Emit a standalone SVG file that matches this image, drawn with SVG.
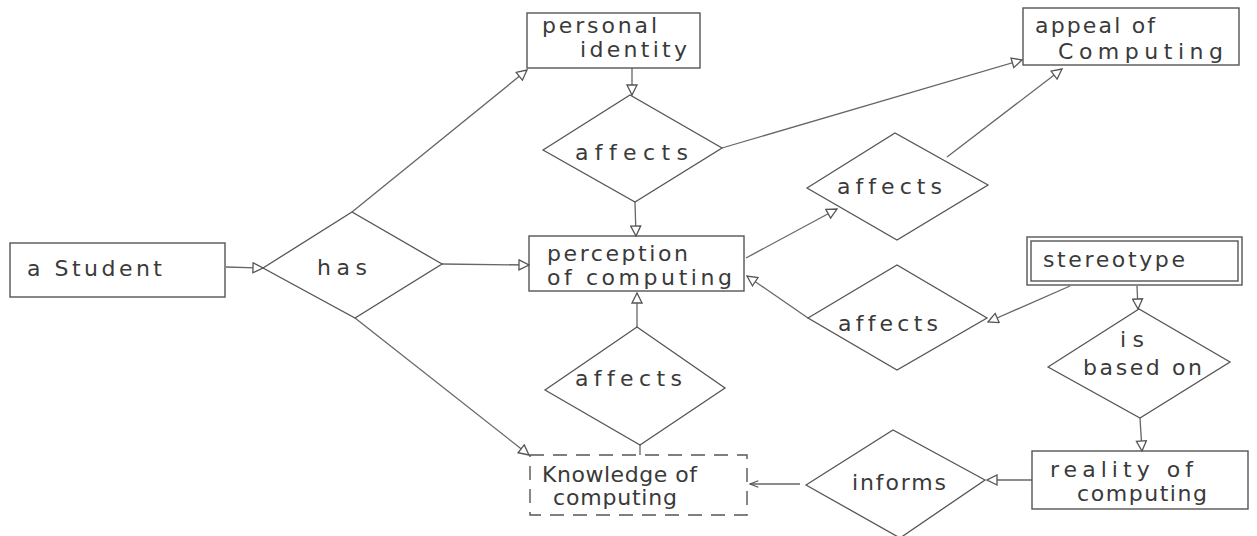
<svg xmlns="http://www.w3.org/2000/svg" width="1257" height="536" viewBox="0 0 1257 536">
  <style>
    .box { fill: none; stroke: #555; stroke-width: 1.4; }
    .dash { fill: none; stroke: #555; stroke-width: 1.4; stroke-dasharray: 14 9; }
    .dia { fill: none; stroke: #555; stroke-width: 1.3; }
    .edge { fill: none; stroke: #666; stroke-width: 1.3; }
    .lbl { font-family: "DejaVu Sans", "Liberation Sans", sans-serif; font-size: 22px; fill: #3a3a3a; font-variant-ligatures: none; font-feature-settings: "liga" 0; }
  </style>
  <defs>
    <marker id="tri" viewBox="0 0 12 12" refX="11" refY="6" markerWidth="12" markerHeight="12" markerUnits="userSpaceOnUse" orient="auto">
      <path d="M1,1 L11,6 L1,11 Z" fill="#fff" stroke="#555" stroke-width="1.3"/>
    </marker>
    <marker id="line" viewBox="0 0 12 12" refX="11" refY="6" markerWidth="10" markerHeight="10" markerUnits="userSpaceOnUse" orient="auto">
      <path d="M1,2 L11,6 L1,10" fill="none" stroke="#555" stroke-width="1.4"/>
    </marker>
  </defs>

  <rect width="1257" height="536" fill="#fff"/>

  <g id="connectors">
    <line class="edge" x1="226" y1="267" x2="263" y2="268" marker-end="url(#tri)"/>
    <line class="edge" x1="352" y1="212" x2="527" y2="70" marker-end="url(#tri)"/>
    <line class="edge" x1="442" y1="264" x2="529" y2="265" marker-end="url(#tri)"/>
    <line class="edge" x1="355" y1="318" x2="529" y2="455" marker-end="url(#tri)"/>
    <line class="edge" x1="632" y1="68" x2="632" y2="95" marker-end="url(#tri)"/>
    <line class="edge" x1="635" y1="202" x2="636" y2="236" marker-end="url(#tri)"/>
    <line class="edge" x1="722" y1="148" x2="1022" y2="60" marker-end="url(#tri)"/>
    <line class="edge" x1="746" y1="258" x2="837" y2="209" marker-end="url(#tri)"/>
    <line class="edge" x1="947" y1="157" x2="1062" y2="69" marker-end="url(#tri)"/>
    <line class="edge" x1="1070" y1="286" x2="988" y2="322" marker-end="url(#tri)"/>
    <line class="edge" x1="808" y1="318" x2="747" y2="276" marker-end="url(#tri)"/>
    <line class="edge" x1="1137" y1="286" x2="1138" y2="309" marker-end="url(#tri)"/>
    <line class="edge" x1="1140" y1="418" x2="1142" y2="451" marker-end="url(#tri)"/>
    <line class="edge" x1="1032" y1="480" x2="987" y2="480" marker-end="url(#tri)"/>
    <line class="edge" x1="800" y1="484" x2="750" y2="484" marker-end="url(#line)"/>
    <line class="edge" x1="640" y1="445" x2="640" y2="455"/>
    <line class="edge" x1="637" y1="327" x2="637" y2="293" marker-end="url(#tri)"/>
  </g>

  <g id="student">
    <rect class="box" x="10" y="243" width="215" height="54"/>
    <text class="lbl" x="27" y="276" textLength="135" lengthAdjust="spacing">a Student</text>
  </g>

  <g id="has">
    <polygon class="dia" points="263,268 352,212 442,264 355,318"/>
    <text class="lbl" x="317" y="275" textLength="50" lengthAdjust="spacing">has</text>
  </g>

  <g id="personal-identity">
    <rect class="box" x="527" y="13" width="173" height="55"/>
    <text class="lbl" x="542" y="33" textLength="115" lengthAdjust="spacing">personal</text>
    <text class="lbl" x="580" y="57" textLength="107" lengthAdjust="spacing">identity</text>
  </g>

  <g id="affects-1">
    <polygon class="dia" points="543,150 630,95 722,148 635,202"/>
    <text class="lbl" x="575" y="160" textLength="113" lengthAdjust="spacing">affects</text>
  </g>

  <g id="appeal-of-computing">
    <rect class="box" x="1023" y="8" width="216" height="57"/>
    <text class="lbl" x="1035" y="33" textLength="120" lengthAdjust="spacing">appeal of</text>
    <text class="lbl" x="1058" y="59" textLength="165" lengthAdjust="spacing">Computing</text>
  </g>

  <g id="perception-of-computing">
    <rect class="box" x="529" y="236" width="215" height="55"/>
    <text class="lbl" x="547" y="261" textLength="141" lengthAdjust="spacing">perception</text>
    <text class="lbl" x="547" y="285" textLength="185" lengthAdjust="spacing">of computing</text>
  </g>

  <g id="affects-2">
    <polygon class="dia" points="807,188 895,133 988,185 897,240"/>
    <text class="lbl" x="837" y="194" textLength="105" lengthAdjust="spacing">affects</text>
  </g>

  <g id="stereotype">
    <rect class="box" x="1027" y="237" width="215" height="48"/>
    <rect class="box" x="1031" y="241" width="207" height="40"/>
    <text class="lbl" x="1043" y="267" textLength="142" lengthAdjust="spacing">stereotype</text>
  </g>

  <g id="affects-3">
    <polygon class="dia" points="808,318 897,265 987,318 897,370"/>
    <text class="lbl" x="838" y="331" textLength="100" lengthAdjust="spacing">affects</text>
  </g>

  <g id="is-based-on">
    <polygon class="dia" points="1048,367 1139,309 1230,362 1140,418"/>
    <text class="lbl" x="1120" y="347" textLength="24" lengthAdjust="spacing">is</text>
    <text class="lbl" x="1083" y="375" textLength="119" lengthAdjust="spacing">based on</text>
  </g>

  <g id="affects-4">
    <polygon class="dia" points="545,390 637,327 725,388 640,445"/>
    <text class="lbl" x="575" y="386" textLength="107" lengthAdjust="spacing">affects</text>
  </g>

  <g id="reality-of-computing">
    <rect class="box" x="1032" y="451" width="216" height="58"/>
    <text class="lbl" x="1050" y="477" textLength="143" lengthAdjust="spacing">reality of</text>
    <text class="lbl" x="1077" y="501" textLength="130" lengthAdjust="spacing">computing</text>
  </g>

  <g id="informs">
    <polygon class="dia" points="806,485 893,430 985,480 900,538"/>
    <text class="lbl" x="852" y="490" textLength="94" lengthAdjust="spacing">informs</text>
  </g>

  <g id="knowledge-of-computing">
    <rect class="dash" x="530" y="455" width="217" height="60"/>
    <text class="lbl" x="542" y="482" textLength="155" lengthAdjust="spacing">Knowledge of</text>
    <text class="lbl" x="553" y="505" textLength="124" lengthAdjust="spacing">computing</text>
  </g>
</svg>
